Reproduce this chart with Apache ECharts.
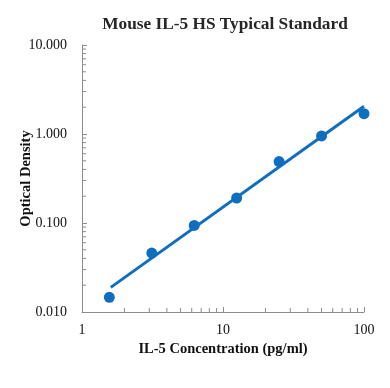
<!DOCTYPE html>
<html><head><meta charset="utf-8">
<script src="https://cdn.jsdelivr.net/npm/echarts@6/dist/echarts.min.js"></script>
<style>html,body{margin:0;padding:0;background:#fff}#c{width:390px;height:388px}</style>
</head><body><div id="c"></div>
<script>
const concentrations = [1.5625, 3.125, 6.25, 12.5, 25, 50, 100];
const odValues = [0.0146, 0.046, 0.094, 0.191, 0.49, 0.95, 1.69];
const trendX = [1.6, 100];
const trendY = [0.0189, 2.05];
const xMinorTicks = [2,3,4,5,6,7,8,9,20,30,40,50,60,70,80,90];
const yMinorTicks = [0.02,0.03,0.04,0.05,0.06,0.07,0.08,0.09,0.2,0.3,0.4,0.5,0.6,0.7,0.8,0.9,2,3,4,5,6,7,8,9];

const serif = '"Liberation Serif", "Times New Roman", serif';
const axisGray = '#8c8c8c';
const blue = '#0F6FBE';

const chart = echarts.init(document.getElementById('c'));
chart.setOption({
  animation: false,
  title: {
    text: 'Mouse IL-5 HS Typical Standard',
    left: 220, top: 11, textAlign: 'center',
    textStyle: {fontFamily: serif, fontSize: 17.3, fontWeight: 'bold', color: '#262626'}
  },
  grid: {left: 82, right: 26, top: 45, bottom: 76, containLabel: false, outerBoundsMode: 'none'},
  xAxis: {
    type: 'log', logBase: 10, min: 1, max: 100,
    name: 'IL-5 Concentration (pg/ml)', nameLocation: 'middle', nameGap: 30, nameMoveOverlap: false,
    nameTextStyle: {fontFamily: serif, fontSize: 14.5, fontWeight: 'bold', color: '#111'},
    axisLine: {lineStyle: {color: axisGray, width: 1}},
    axisTick: {inside: true, length: 5, lineStyle: {color: axisGray}},
    axisLabel: {fontFamily: serif, fontSize: 14, color: '#111', margin: 11},
    splitLine: {show: false}
  },
  yAxis: {
    type: 'log', logBase: 10, min: 0.01, max: 10,
    name: 'Optical Density', nameLocation: 'middle', nameGap: 48, nameRotate: 90, nameMoveOverlap: false,
    nameTextStyle: {fontFamily: serif, fontSize: 14.5, fontWeight: 'bold', color: '#111'},
    axisLine: {show: true, lineStyle: {color: axisGray, width: 1}},
    axisTick: {show: true, inside: true, length: 5, lineStyle: {color: axisGray}},
    axisLabel: {fontFamily: serif, fontSize: 14, color: '#111', margin: 15,
      formatter: v => Number(v).toFixed(3)},
    splitLine: {show: false}
  },
  series: [
    {
      type: 'line', data: trendX.map((x, i) => [x, trendY[i]]),
      showSymbol: false, symbol: 'none',
      lineStyle: {color: blue, width: 3}, z: 3
    },
    {
      type: 'scatter', data: concentrations.map((x, i) => [x, odValues[i]]),
      symbolSize: 11, itemStyle: {color: blue, opacity: 1}, z: 4
    },
    {
      type: 'custom', data: xMinorTicks, silent: true, z: 2,
      renderItem: (params, api) => {
        const p = api.coord([api.value(0), 0.01]);
        return {type: 'line', shape: {x1: p[0], y1: p[1], x2: p[0], y2: p[1] - 4},
          style: {stroke: axisGray, lineWidth: 1}};
      },
      encode: {x: 0}
    },
    {
      type: 'custom', data: yMinorTicks, silent: true, z: 2,
      renderItem: (params, api) => {
        const p = api.coord([1, api.value(0)]);
        return {type: 'line', shape: {x1: p[0], y1: p[1], x2: p[0] + 4, y2: p[1]},
          style: {stroke: axisGray, lineWidth: 1}};
      },
      encode: {y: 0}
    }
  ]
});
</script></body></html>
